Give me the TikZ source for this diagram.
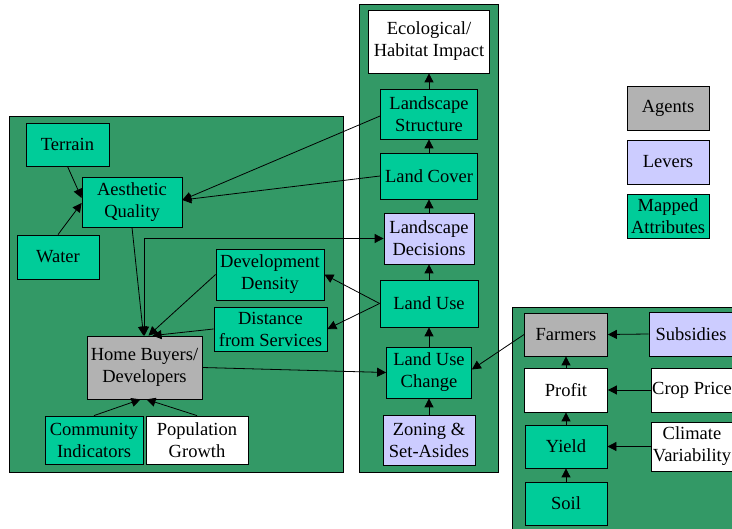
\documentclass[tikz,border=0pt]{standalone}
\usepackage{fontspec}
\setmainfont{Liberation Serif}
\usetikzlibrary{arrows.meta}
\definecolor{panelgreen}{HTML}{339966}
\definecolor{attrgreen}{HTML}{00CC99}
\definecolor{leverblue}{HTML}{CCCCFF}
\definecolor{agentgray}{HTML}{B2B2B2}
\tikzset{
  box/.style={draw=black,line width=0.8pt,align=center,inner sep=1pt,
    font=\fontsize{18.5}{22}\selectfont},
  attr/.style={box,fill=attrgreen},
  lever/.style={box,fill=leverblue},
  agent/.style={box,fill=agentgray},
  plainbox/.style={box,fill=white},
  panel/.style={draw=black,line width=0.8pt,fill=panelgreen},
  link/.style={->,line width=0.8pt}
}
\begin{document}
\begin{tikzpicture}[x=1pt,y=-1pt,>={Triangle[length=9pt,width=9pt]}]
\clip (0,0) rectangle (732,529);
\fill[white] (0,0) rectangle (732,529);
% panels
\draw[panel] (9,116) rectangle (343,472);
\draw[panel] (359,4) rectangle (498,472);
\draw[panel] (512,307) rectangle (745,540);
% home buyers panel
\node[attr,minimum width=83pt,minimum height=43pt] (terrain) at (67.5,144.5) {Terrain};
\node[attr,minimum width=100pt,minimum height=50pt] (aq) at (132,202) {Aesthetic\\Quality};
\node[attr,minimum width=82pt,minimum height=44pt] (water) at (58,257) {Water};
\node[attr,minimum width=108pt,minimum height=51pt] (dd) at (270,274.5) {Development\\Density};
\node[attr,minimum width=113pt,minimum height=44pt] (dist) at (270.5,329) {Distance\\from Services};
\node[agent,minimum width=115pt,minimum height=63pt] (hb) at (144.5,367.5) {Home Buyers/\\Developers};
\node[attr,minimum width=98pt,minimum height=48pt] (ci) at (94,440) {Community\\Indicators};
\node[plainbox,minimum width=102pt,minimum height=48pt] (pg) at (197,440) {Population\\Growth};
% landscape column
\node[plainbox,minimum width=121pt,minimum height=63pt] (eco) at (429,41.5) {Ecological/\\Habitat Impact};
\node[attr,minimum width=97pt,minimum height=50pt] (ls) at (429,114) {Landscape\\Structure};
\node[attr,minimum width=97pt,minimum height=46pt] (lc) at (429,176) {Land Cover};
\node[lever,minimum width=90pt,minimum height=51pt] (ld) at (429,238.5) {Landscape\\Decisions};
\node[attr,minimum width=98pt,minimum height=47pt] (lu) at (429,303.5) {Land Use};
\node[attr,minimum width=85pt,minimum height=51pt] (luc) at (429,372.5) {Land Use\\Change};
\node[lever,minimum width=92pt,minimum height=50pt] (zone) at (429,440) {Zoning \&\\Set-Asides};
% farmers panel
\node[agent,minimum width=83pt,minimum height=43pt] (farm) at (566,334.5) {Farmers};
\node[lever,minimum width=84pt,minimum height=44pt] (subs) at (691,334) {Subsidies};
\node[plainbox,minimum width=82pt,minimum height=44pt] (crop) at (692,390) {Crop Price};
\node[plainbox,minimum width=83pt,minimum height=44pt] (profit) at (566,390) {Profit};
\node[attr,minimum width=82pt,minimum height=43pt] (yield) at (566,446.5) {Yield};
\node[plainbox,minimum width=82pt,minimum height=49pt] (climate) at (692,446.5) {Climate\\Variability};
\node[attr,minimum width=82pt,minimum height=43pt] (soil) at (566,503.5) {Soil};
% legend
\node[agent,minimum width=82pt,minimum height=44pt] (agents) at (668,108) {Agents};
\node[lever,minimum width=82pt,minimum height=44pt] (levers) at (668,162) {Levers};
\node[attr,minimum width=82pt,minimum height=44pt] (mapped) at (668,216) {Mapped\\Attributes};
% links
\draw[link] (terrain.south) -- ([yshift=4pt]aq.west);
\draw[link] (water.north) -- ([yshift=-1pt]aq.west);
\draw[link] ([yshift=-2pt]ls.west) -- ([yshift=2pt]aq.east);
\draw[link] (lc.west) -- ([yshift=2pt]aq.east);
\draw[link] (aq.south) -- ([xshift=-1pt]hb.north);
\draw[link,<->] (hb.north) |- (ld.west);
\draw[link] (dd.west) -- ([xshift=4pt]hb.north);
\draw[link] (dist.west) -- ([xshift=8pt]hb.north);
\draw[link] (lu.west) -- (dd.east);
\draw[link] (lu.west) -- (dist.east);
\draw[link] (hb.east) -- (luc.west);
\draw[link] (farm.west) -- ([yshift=3pt]luc.east);
\draw[link] (ci.north) -- ([xshift=-4pt]hb.south);
\draw[link] (pg.north) -- ([xshift=2pt]hb.south);
\foreach \a/\b in {zone/luc,luc/lu,lu/ld,ld/lc,lc/ls,ls/eco,soil/yield,yield/profit,profit/farm}
  \draw[link] (\a.north) -- (\b.south);
\foreach \a/\b in {subs/farm,crop/profit,climate/yield}
  \draw[link] (\a.west) -- (\b.east);
\end{tikzpicture}
\end{document}
